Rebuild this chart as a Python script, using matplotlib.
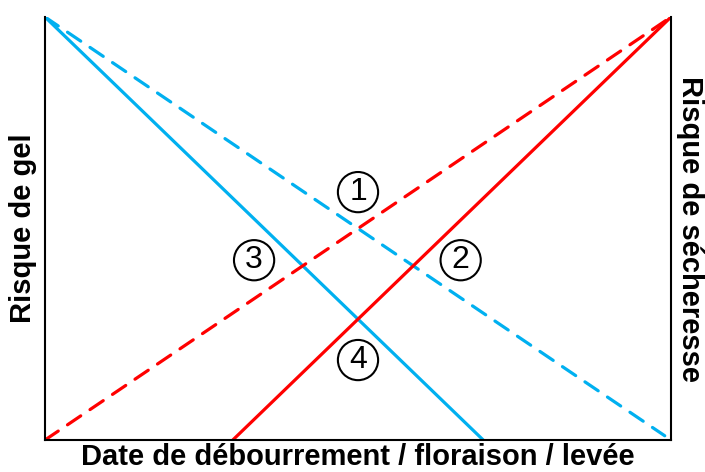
import matplotlib
matplotlib.use('Agg')
import matplotlib.pyplot as plt

# line end points (x from 0 = early to 1 = late, risk from 0 to 1)
gel_solid_x = [0.0, 0.70]
gel_solid_y = [1.0, 0.0]
gel_dash_x = [0.0, 0.99]
gel_dash_y = [1.0, 0.01]
sech_solid_x = [0.30, 1.0]
sech_solid_y = [0.0, 1.0]
sech_dash_x = [0.0, 1.0]
sech_dash_y = [0.0, 1.0]

labels = ['1', '2', '3', '4']
label_x = [0.50, 0.664, 0.334, 0.50]
label_y = [0.586, 0.425, 0.425, 0.189]

blue = '#00B0F0'
red = '#FF0000'

plt.rcParams['font.family'] = ['Liberation Sans', 'DejaVu Sans']

fig = plt.figure(figsize=(7.05, 4.72), dpi=100)
ax = fig.add_axes([45/705, 1-440/472, 626/705, 423/472])

ax.plot(gel_solid_x, gel_solid_y, color=blue, lw=2.3, solid_capstyle='butt')
ax.plot(gel_dash_x, gel_dash_y, color=blue, lw=2.3, dashes=(5, 3.5), dash_capstyle='round')
ax.plot(sech_solid_x, sech_solid_y, color=red, lw=2.3, solid_capstyle='butt')
ax.plot(sech_dash_x, sech_dash_y, color=red, lw=2.3, dashes=(5, 3.5), dash_capstyle='round')

for t, x, y in zip(labels, label_x, label_y):
    ax.text(x, y, t, ha='center', va='center', fontsize=23, color='black',
            bbox=dict(boxstyle='circle,pad=0.16', fc='none', ec='black', lw=1.5))

ax.set_xlim(0, 1)
ax.set_ylim(0, 1)
ax.set_xticks([])
ax.set_yticks([])
ax.spines['top'].set_visible(False)
for s in ['left', 'right', 'bottom']:
    ax.spines[s].set_linewidth(1.5)

ax.set_xlabel('Date de débourrement / floraison / levée', fontsize=21, fontweight='bold', labelpad=2)
ax.set_ylabel('Risque de gel', fontsize=21, fontweight='bold', labelpad=6)
fig.text(690/705, 1-229/472, 'Risque de sécheresse', rotation=-90, ha='center', va='center',
         fontsize=21, fontweight='bold')

fig.savefig('out.png', dpi=100)
